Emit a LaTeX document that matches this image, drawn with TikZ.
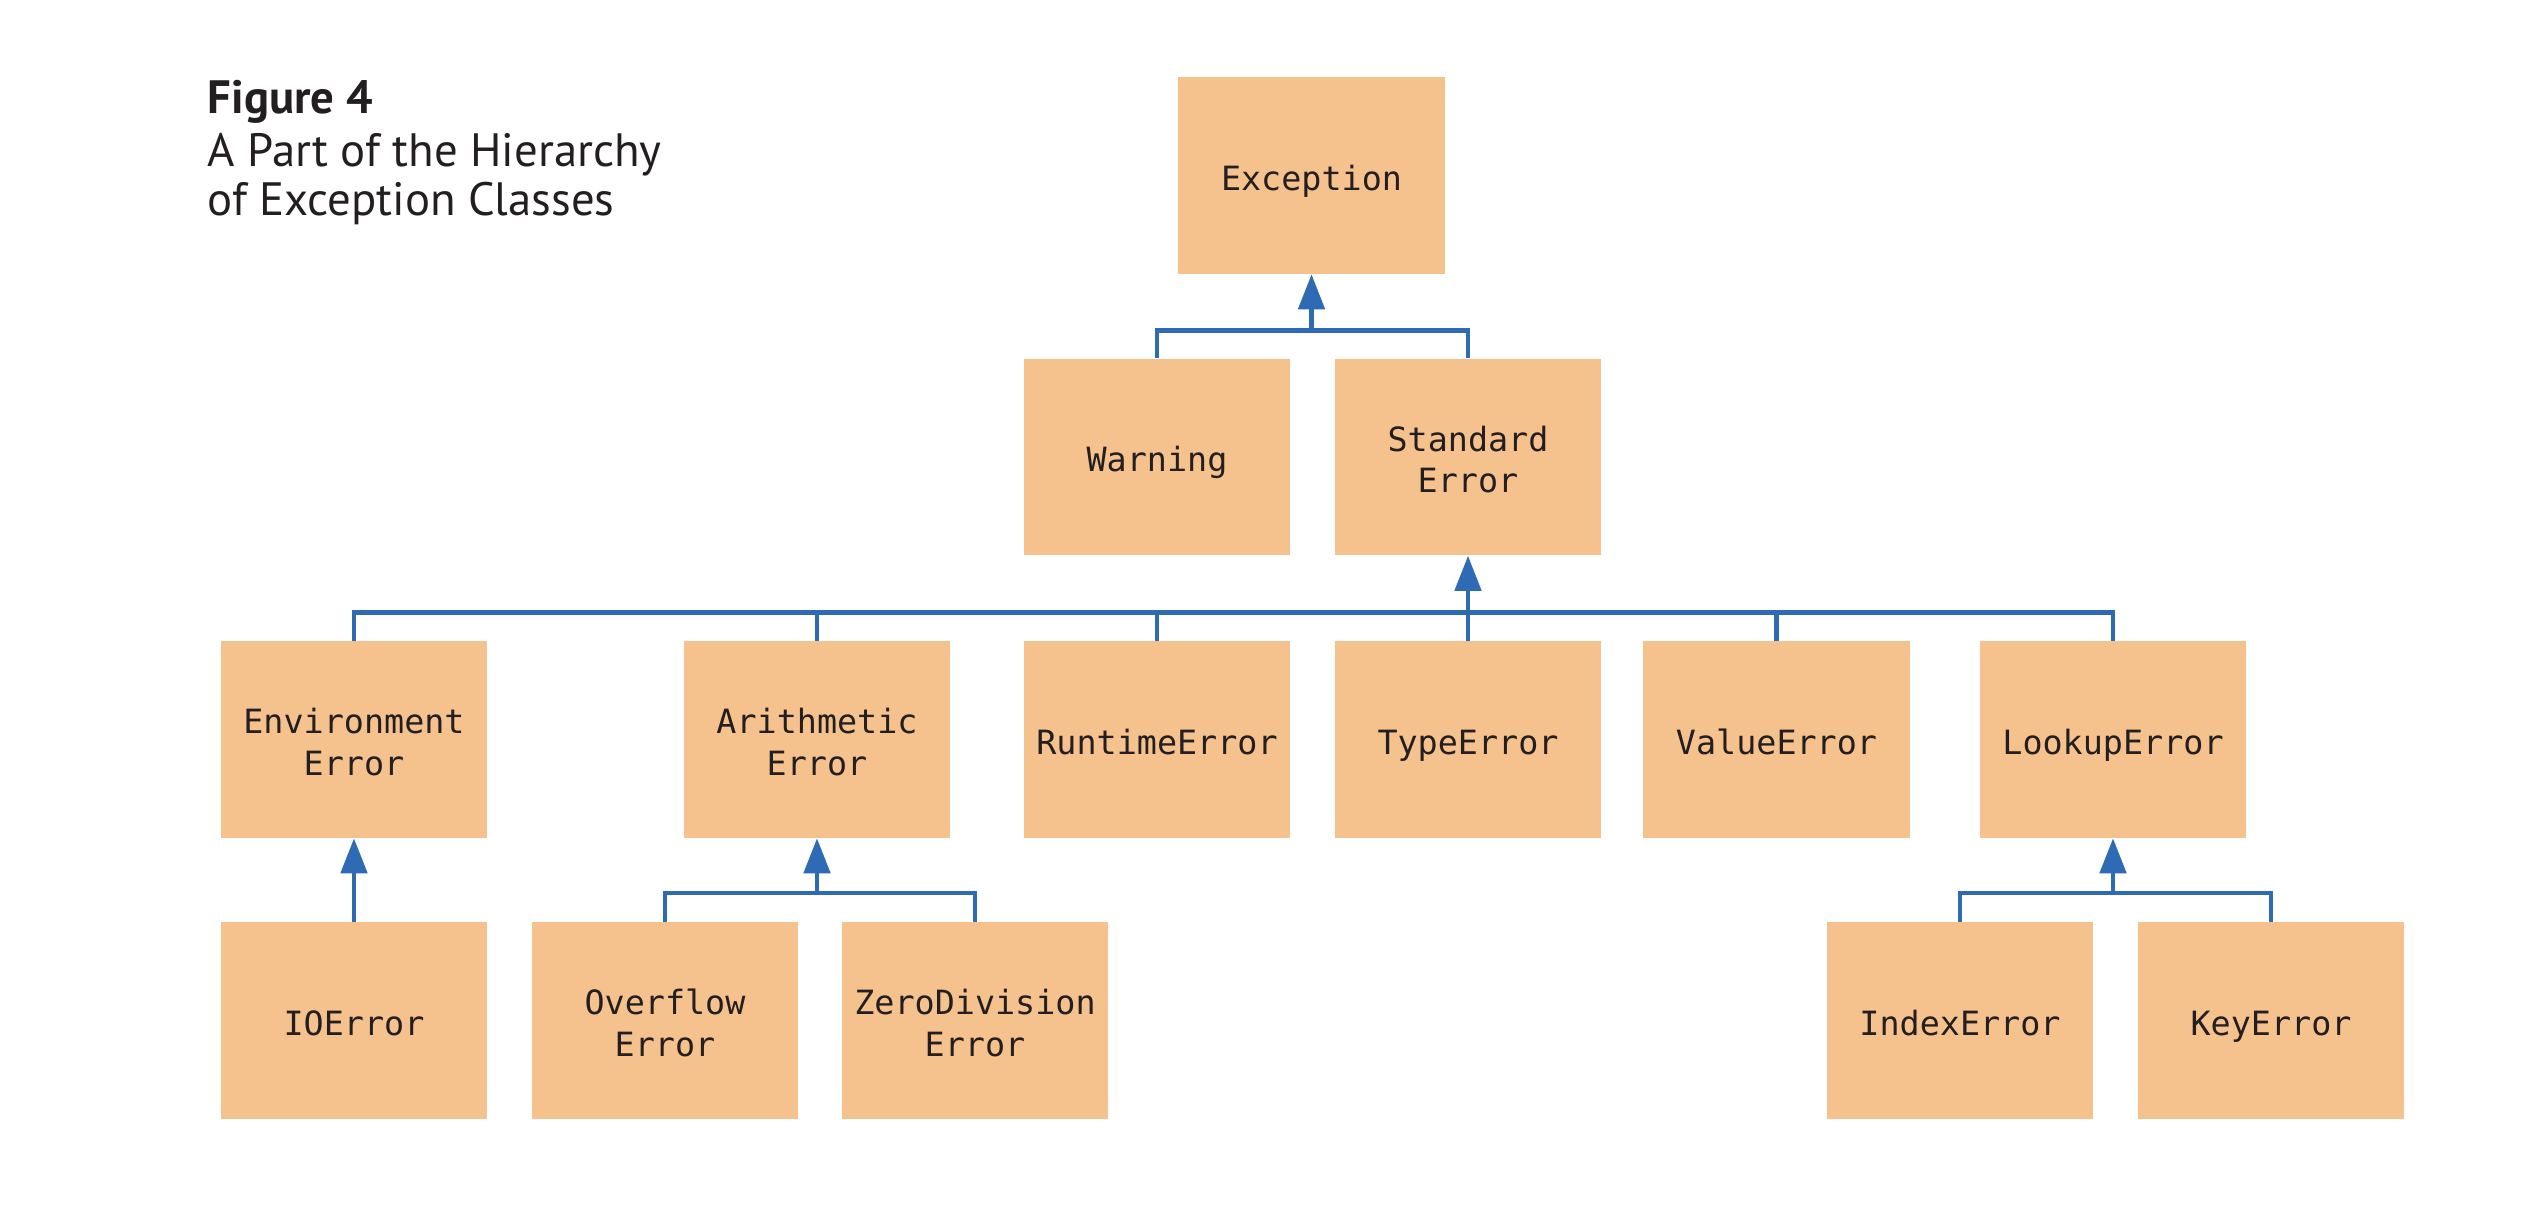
\documentclass[tikz,border=0pt]{standalone}
\usepackage{fontspec}
\setmainfont{PT Sans}
\newfontfamily\boxfont{DejaVu Sans Mono}
\usetikzlibrary{arrows.meta}
\definecolor{boxfill}{RGB}{245,194,142}
\definecolor{connblue}{RGB}{46,107,180}
\definecolor{inkdark}{RGB}{35,31,32}
\tikzset{
  cls/.style={fill=boxfill, draw=none, minimum width=2.66cm, minimum height=1.96cm,
    inner sep=0pt, align=center, text=inkdark,
    font=\boxfont\fontsize{9.5}{11.9}\selectfont,
    execute at begin node=\rule{0pt}{12pt},
    execute at end node=\rule[-3.57pt]{0pt}{3.57pt}},
  twoline/.style={execute at begin node=\rule{0pt}{24pt}},
  conn/.style={draw=connblue, line width=0.048cm, line cap=butt, line join=miter},
  inh/.style={conn, -{Triangle[length=0.35cm, width=0.26cm]}},
  titletext/.style={anchor=base west, inner sep=0pt, text=inkdark}
}
\begin{document}
\begin{tikzpicture}[x=0.01cm, y=-0.01cm]
\useasboundingbox (0,0) rectangle (2528,1218);
% title
\node[titletext, font=\bfseries\fontsize{13.3}{16}\selectfont] (t1) at (207,113) {Figure 4};
\node[titletext, font=\fontsize{13.3}{16}\selectfont] (t2) at (207,166) {A Part of the Hierarchy};
\node[titletext, font=\fontsize{13.3}{16}\selectfont] (t3) at (207,215) {of Exception Classes};
% boxes
\node[cls] (exc) at (1311.5,175.5) {Exception};
\node[cls] (warn) at (1157,457) {Warning};
\node[cls, twoline] (std) at (1468,457) {Standard\\Error};
\node[cls, twoline] (env) at (354,739.5) {Environment\\Error};
\node[cls, twoline] (arith) at (817,739.5) {Arithmetic\\Error};
\node[cls] (run) at (1157,739.5) {RuntimeError};
\node[cls] (type) at (1468,739.5) {TypeError};
\node[cls] (val) at (1776.5,739.5) {ValueError};
\node[cls] (look) at (2113,739.5) {LookupError};
\node[cls] (io) at (354,1020.5) {IOError};
\node[cls, twoline] (ovf) at (665,1020.5) {Overflow\\Error};
\node[cls, twoline] (zero) at (975,1020.5) {ZeroDivision\\Error};
\node[cls] (idx) at (1960,1020.5) {IndexError};
\node[cls] (key) at (2271,1020.5) {KeyError};
% bus points
\coordinate (b1) at (1311.5,330.5);
\coordinate (b2) at (1468,612.5);
\coordinate (b3) at (817,893);
\coordinate (b4) at (2113,893);
% Exception
\draw[conn] (warn.north) |- (b1) -| (std.north);
\draw[inh] (b1) -- (exc.south);
% StandardError
\draw[conn] (env.north) |- (b2) -| (look.north);
\draw[conn] (arith.north) -- (arith.north |- b2);
\draw[conn] (run.north) -- (run.north |- b2);
\draw[conn] (val.north) -- (val.north |- b2);
\draw[inh] (type.north) -- (std.south);
% EnvironmentError
\draw[inh] (io.north) -- (env.south);
% ArithmeticError
\draw[conn] (ovf.north) |- (b3) -| (zero.north);
\draw[inh] (b3) -- (arith.south);
% LookupError
\draw[conn] (idx.north) |- (b4) -| (key.north);
\draw[inh] (b4) -- (look.south);
\end{tikzpicture}
\end{document}
